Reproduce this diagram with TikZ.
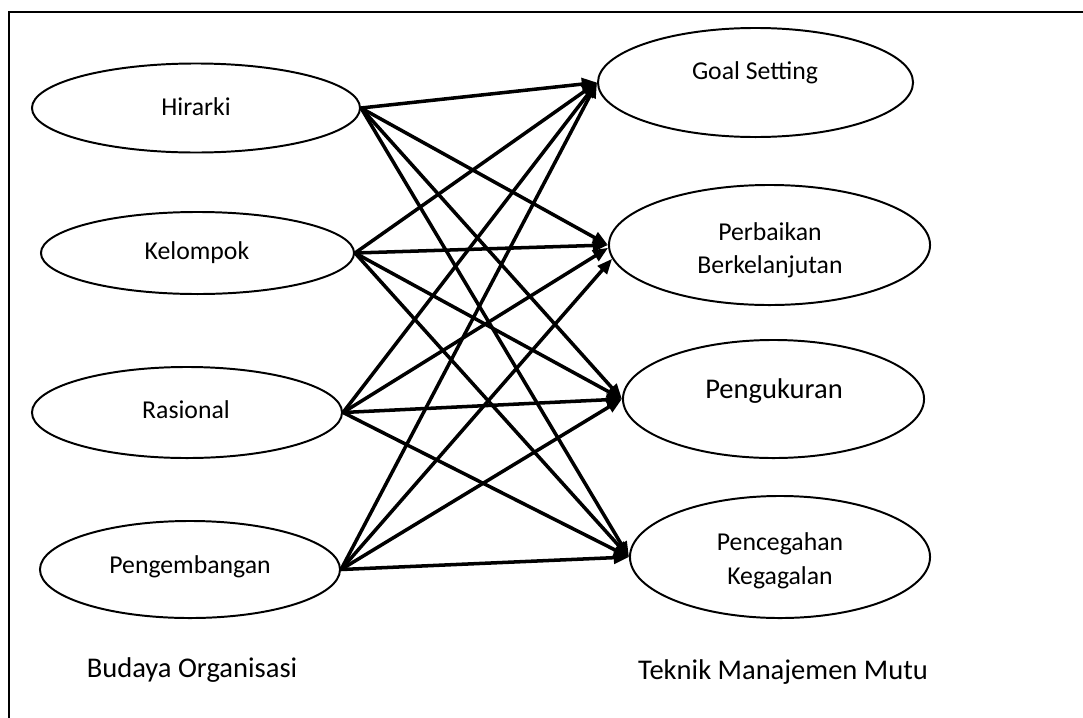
\documentclass[tikz,border=0pt]{standalone}
\usepackage{fontspec}
\setmainfont{Carlito}
\usetikzlibrary{arrows.meta,shapes.geometric}
\newcommand\ovalfont{\fontsize{18.3}{23.8}\selectfont}
\newcommand\bigfont{\fontsize{20.3}{24}\selectfont}
\newcommand\ovalline{1.4pt}
\newcommand\arrline{2.5pt}

\begin{document}
\begin{tikzpicture}[x=0.025cm, y=-0.025cm, >={Triangle[length=0.38cm, width=0.3cm]}]
	\tikzstyle{every node}=[font=\ovalfont]
	\tikzstyle{oval}=[ellipse, draw, line width=\ovalline, inner sep=0pt]
	\tikzstyle{txt}=[align=center, inner sep=0pt]
	\tikzstyle{arr}=[->, line width=\arrline]

	\clip (0,0) rectangle (1083,717);

	%frame
	\draw[line width=1.8pt] (9,740) -- (9,12) -- (1100,12);

	%budaya organisasi
	\node[oval, minimum width=8.2cm, minimum height=2.225cm] (H) at (196,108) {};
	\node[oval, minimum width=7.825cm, minimum height=2.05cm] (K) at (197.5,253) {};
	\node[oval, minimum width=7.75cm, minimum height=2.275cm] (R) at (187,412.5) {};
	\node[oval, minimum width=7.5cm, minimum height=2.425cm] (P) at (190,569.5) {};
	\node[txt] (Htxt) at (196,107) {Hirarki};
	\node[txt] (Ktxt) at (197,253) {Kelompok};
	\node[txt] (Rtxt) at (186,410) {Rasional};
	\node[txt] (Ptxt) at (190,567) {Pengembangan};

	%teknik manajemen mutu
	\node[oval, minimum width=7.875cm, minimum height=2.725cm] (GS) at (755.5,82.5) {};
	\node[oval, minimum width=8.025cm, minimum height=3.0cm] (PB) at (769.5,245) {};
	\node[oval, minimum width=7.525cm, minimum height=2.95cm] (PU) at (773.5,399) {};
	\node[oval, minimum width=7.5cm, minimum height=3.05cm] (PK) at (780,557) {};
	\node[txt] (GStxt) at (755,73) {Goal Setting};
	\node[txt] (PBtxt) at (770,250) {Perbaikan\\Berkelanjutan};
	\node[txt, font=\bigfont] (PUtxt) at (774,391) {Pengukuran};
	\node[txt] (PKtxt) at (780,561) {Pencegahan\\Kegagalan};

	%captions
	\node[txt, font=\bigfont] (BO) at (192,670) {Budaya Organisasi};
	\node[txt, font=\bigfont] (TM) at (783,672) {Teknik Manajemen Mutu};

	%arrows
	\draw[arr] (H.east) -- (GS.west);
	\draw[arr] (H.east) -- (PB.west);
	\draw[arr] (H.east) -- (PU.west);
	\draw[arr] (H.east) -- (PK.west);
	\draw[arr] (K.east) -- (GS.west);
	\draw[arr] (K.east) -- (PB.west);
	\draw[arr] (K.east) -- (PU.west);
	\draw[arr] (K.east) -- (PK.west);
	\draw[arr] (R.east) -- (GS.west);
	\draw[arr] (R.east) -- (PB.181);
	\draw[arr] (R.east) -- (PU.west);
	\draw[arr] (R.east) -- (PK.west);
	\draw[arr] (P.east) -- (GS.west);
	\draw[arr] (P.east) -- (PB.185);
	\draw[arr] (P.east) -- (PU.west);
	\draw[arr] (P.east) -- (PK.west);
\end{tikzpicture}
\end{document}
